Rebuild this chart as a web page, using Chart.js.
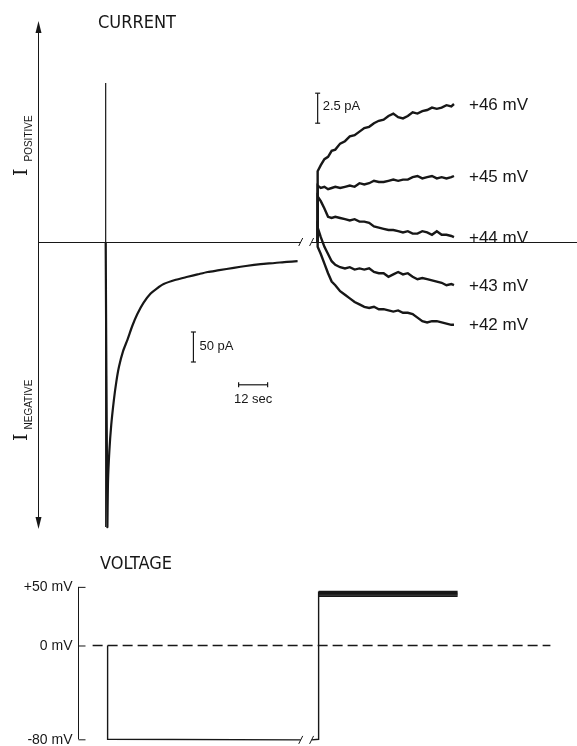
<!DOCTYPE html>
<html>
<head>
<meta charset="utf-8">
<script src="https://cdn.jsdelivr.net/npm/chart.js@4.4.1/dist/chart.umd.min.js"></script>
<style>
  html, body { margin: 0; padding: 0; background: #fff; }
  .box { position: absolute; left: 0; width: 577px; }
</style>
</head>
<body>
<div class="box" style="top:0;height:540px"><canvas id="current"></canvas></div>
<div class="box" style="top:540px;height:206px"><canvas id="voltage"></canvas></div>
<script>
// time in sec after the -80 mV pulse starts, current in pA
var negTime    = [0, 0.7, 0.96, 1.5, 2.3, 3.4, 4.4, 5.5, 7.2, 9.0, 11, 13.1, 15.7, 18.6, 21, 24, 29, 33.9, 38, 42.2, 47, 53, 58, 64.1, 70, 75, 79.4];
var negCurrent = [0, -475, -400, -350, -305, -263, -233, -208, -182, -163, -140, -120, -101, -86, -78, -70, -63, -58, -54, -50, -47, -43, -40, -37, -35, -33, -32];

var stimTime = [0, 0];
var stimCurrent = [265, -475];

// tail currents after the step (right axis, pA)
var tailTime = [87.7, 87.7, 89, 90.5, 92, 93.5, 95, 97, 99, 101, 103, 105, 107, 109, 111, 113, 115, 117, 119, 121, 123, 125, 127, 129, 131, 133, 135, 137, 139, 141, 143, 144.1];
var tail46 = [0, 5.9, 6.4, 6.9, 7.1, 7.6, 7.7, 8.2, 8.4, 8.8, 8.9, 9.2, 9.5, 9.6, 9.9, 10.1, 10.2, 10.5, 10.7, 10.4, 10.3, 10.5, 10.8, 10.7, 10.9, 11.0, 11.2, 11.1, 11.2, 11.4, 11.3, 11.5];
var tail45 = [0, 4.7, 4.5, 4.6, 4.4, 4.5, 4.6, 4.5, 4.6, 4.7, 4.6, 4.9, 4.8, 4.9, 5.1, 5.0, 5.0, 5.1, 5.2, 5.1, 5.2, 5.2, 5.4, 5.5, 5.3, 5.4, 5.5, 5.3, 5.4, 5.3, 5.4, 5.5];
var tail44 = [0, 3.8, 3.4, 2.8, 2.1, 2.0, 2.1, 2.0, 1.9, 1.8, 1.9, 1.7, 1.7, 1.6, 1.3, 1.2, 1.1, 1.0, 1.0, 0.9, 0.8, 0.9, 0.7, 0.7, 0.9, 0.8, 0.6, 0.9, 0.6, 0.6, 0.5, 0.4];
var tail43 = [0, 1.2, 0.4, -0.4, -1.0, -1.6, -1.9, -2.1, -2.2, -2.1, -2.3, -2.2, -2.3, -2.2, -2.5, -2.6, -2.6, -2.9, -2.7, -2.5, -2.7, -2.6, -2.9, -3.1, -3.0, -3.1, -3.2, -3.3, -3.4, -3.6, -3.5, -3.6];
var tail42 = [0, -0.4, -1.0, -1.8, -2.6, -3.3, -3.6, -4.1, -4.4, -4.7, -5.0, -5.2, -5.4, -5.5, -5.4, -5.6, -5.6, -5.7, -5.8, -5.7, -5.9, -5.9, -6.0, -6.3, -6.6, -6.7, -6.6, -6.6, -6.7, -6.8, -6.9, -6.9];
var tailLabels = ['+46 mV', '+45 mV', '+44 mV', '+43 mV', '+42 mV'];

var breakTimes = [80.7, 85.2];

// scale bars: [x1, y1, x2, y2]
var bar50pA = [36.3, -150, 36.3, -200];
var bar12s = [55, -238, 67, -238];
var bar2pA = [87.7, 9.9, 87.7, 12.4];

// voltage protocol (mV)
var pulseTime = [0.8, 0.8, 80.7, 80.7, 85.2, 88.1, 88.1];
var pulseVolt = [0, -80, -80.5, null, -80.5, -80, 46];
var stepLevels = [42, 43, 44, 45, 46];
var stepSpan = [88.1, 145.6];
var zeroTime = [-5.4, 184];
var voltTicks = [50, 0, -80];
var voltTickLabels = ['+50 mV', '0 mV', '-80 mV'];

var ink = '#171717';
var sans = '"Liberation Sans", Arial, sans-serif';
var narrow = '"Liberation Sans Narrow", "DejaVu Sans Condensed", sans-serif';

function zip(xs, ys) {
    var out = [];
    for (var i = 0; i < xs.length; i++) out.push({ x: xs[i], y: ys[i] });
    return out;
}

function line(ctx, x1, y1, x2, y2) {
    ctx.beginPath();
    ctx.moveTo(x1, y1);
    ctx.lineTo(x2, y2);
    ctx.stroke();
}

function scaleBar(ctx, chart, b, yId, cap) {
    var sx = chart.scales.x, sy = chart.scales[yId];
    var x1 = sx.getPixelForValue(b[0]), y1 = sy.getPixelForValue(b[1]);
    var x2 = sx.getPixelForValue(b[2]), y2 = sy.getPixelForValue(b[3]);
    line(ctx, x1, y1, x2, y2);
    if (x1 == x2) {
        line(ctx, x1 - cap, y1, x1 + cap, y1);
        line(ctx, x2 - cap, y2, x2 + cap, y2);
    } else {
        line(ctx, x1, y1 - cap, x1, y1 + cap);
        line(ctx, x2, y2 - cap, x2, y2 + cap);
    }
}

function slash(ctx, x, y) {
    line(ctx, x - 2, y + 4, x + 2, y - 4);
}

function sideLabel(ctx, x, y, sub, gap) {
    ctx.save();
    ctx.translate(x, y);
    ctx.rotate(-Math.PI / 2);
    ctx.textAlign = 'left';
    ctx.textBaseline = 'alphabetic';
    ctx.font = '19px "DejaVu Serif", serif';
    ctx.fillText('I', 0, 0);
    var w = ctx.measureText('I').width;
    ctx.font = '10px ' + sans;
    ctx.fillText(sub, w + gap, 5);
    ctx.restore();
}

var currentDeco = {
    id: 'currentDeco',
    beforeDatasetsDraw: function (chart) {
        var ctx = chart.ctx, ca = chart.chartArea;
        var sx = chart.scales.x, sy = chart.scales.y;
        var y0 = sy.getPixelForValue(0);
        ctx.save();
        ctx.strokeStyle = ink;
        ctx.fillStyle = ink;
        ctx.lineWidth = 1;
        // vertical current axis with arrows
        var ax = ca.left + 0.5;
        line(ctx, ax, ca.top + 4, ax, ca.bottom - 4);
        ctx.beginPath();
        ctx.moveTo(ax, ca.top + 1); ctx.lineTo(ax - 3, ca.top + 13); ctx.lineTo(ax + 3, ca.top + 13); ctx.closePath(); ctx.fill();
        ctx.beginPath();
        ctx.moveTo(ax, ca.bottom - 1); ctx.lineTo(ax - 3, ca.bottom - 13); ctx.lineTo(ax + 3, ca.bottom - 13); ctx.closePath(); ctx.fill();
        // time axis with a break
        var b1 = sx.getPixelForValue(breakTimes[0]), b2 = sx.getPixelForValue(breakTimes[1]);
        line(ctx, ca.left, y0 + 0.5, b1, y0 + 0.5);
        line(ctx, b2, y0 + 0.5, ca.right, y0 + 0.5);
        slash(ctx, b1, y0);
        slash(ctx, b2, y0);
        ctx.restore();
    },
    afterDraw: function (chart) {
        var ctx = chart.ctx;
        var sx = chart.scales.x, sy = chart.scales.y, sy2 = chart.scales.y2;
        ctx.save();
        ctx.strokeStyle = ink;
        ctx.fillStyle = ink;
        ctx.lineWidth = 1.2;
        scaleBar(ctx, chart, bar50pA, 'y', 2.5);
        scaleBar(ctx, chart, bar12s, 'y', 2.5);
        scaleBar(ctx, chart, bar2pA, 'y2', 2.5);

        ctx.textBaseline = 'middle';
        ctx.textAlign = 'left';
        ctx.font = '13px ' + sans;
        ctx.fillText('50 pA', sx.getPixelForValue(bar50pA[0]) + 6, sy.getPixelForValue((bar50pA[1] + bar50pA[3]) / 2) - 1);
        ctx.textAlign = 'center';
        ctx.fillText('12 sec', sx.getPixelForValue((bar12s[0] + bar12s[2]) / 2), sy.getPixelForValue(bar12s[1]) + 15);
        ctx.textAlign = 'left';
        ctx.fillText('2.5 pA', sx.getPixelForValue(bar2pA[0]) + 5, sy2.getPixelForValue((bar2pA[1] + bar2pA[3]) / 2) - 2);

        // trace labels at the end of each tail
        var tails = [tail46, tail45, tail44, tail43, tail42];
        ctx.font = '17px ' + sans;
        for (var i = 0; i < tails.length; i++) {
            var n = tails[i].length - 1;
            ctx.fillText(tailLabels[i], sx.getPixelForValue(tailTime[n]) + 15, sy2.getPixelForValue(tails[i][n]) + 1);
        }

        ctx.font = '18px ' + narrow;
        ctx.fillText('CURRENT', 98, 23);
        sideLabel(ctx, 27, 176, 'POSITIVE', 7);
        sideLabel(ctx, 27, 441, 'NEGATIVE', 4);
        ctx.restore();
    }
};

var voltageDeco = {
    id: 'voltageDeco',
    afterDraw: function (chart) {
        var ctx = chart.ctx, ca = chart.chartArea;
        var sx = chart.scales.x, sy = chart.scales.y;
        ctx.save();
        ctx.strokeStyle = ink;
        ctx.fillStyle = ink;
        ctx.lineWidth = 1;
        var ax = ca.left + 0.5;
        line(ctx, ax, sy.getPixelForValue(voltTicks[0]), ax, sy.getPixelForValue(voltTicks[voltTicks.length - 1]));
        ctx.font = '14px ' + sans;
        ctx.textAlign = 'right';
        ctx.textBaseline = 'middle';
        for (var i = 0; i < voltTicks.length; i++) {
            var ty = sy.getPixelForValue(voltTicks[i]) + 0.5;
            line(ctx, ax, ty, ax + 7, ty);
            ctx.fillText(voltTickLabels[i], ax - 6, ty);
        }
        var yb = sy.getPixelForValue(-80.5);
        slash(ctx, sx.getPixelForValue(breakTimes[0]), yb);
        slash(ctx, sx.getPixelForValue(breakTimes[1]), yb);
        ctx.textAlign = 'left';
        ctx.font = '18px ' + narrow;
        ctx.fillText('VOLTAGE', 100, 24);
        ctx.restore();
    }
};

function trace(data, width, yId) {
    return {
        data: data,
        borderColor: ink,
        borderWidth: width,
        pointRadius: 0,
        tension: 0,
        fill: false,
        yAxisID: yId || 'y'
    };
}

var currentSets = [
    trace(zip(stimTime, stimCurrent), 1.2),
    Object.assign(trace(zip(negTime, negCurrent), 2.2), { tension: 0.25 }),
    trace(zip(tailTime, tail46), 2.4, 'y2'),
    trace(zip(tailTime, tail45), 2.4, 'y2'),
    trace(zip(tailTime, tail44), 2.4, 'y2'),
    trace(zip(tailTime, tail43), 2.4, 'y2'),
    trace(zip(tailTime, tail42), 2.4, 'y2')
];

new Chart(document.getElementById('current'), {
    type: 'line',
    data: { datasets: currentSets },
    options: {
        responsive: true,
        maintainAspectRatio: false,
        animation: false,
        layout: { padding: { left: 38, right: 0, top: 20, bottom: 10 } },
        plugins: { legend: { display: false }, tooltip: { enabled: false } },
        scales: {
            x: { type: 'linear', min: -28, max: 195, display: false },
            y: { min: -480, max: 370, display: false },
            y2: { min: -24, max: 18.5, display: false }
        }
    },
    plugins: [currentDeco]
});

var voltageSets = [
    Object.assign(trace(zip(zeroTime, [0, 0]), 1.6), { borderDash: [10, 5] }),
    trace(zip(pulseTime, pulseVolt), 1.4)
];
for (var k = 0; k < stepLevels.length; k++) {
    voltageSets.push(trace(zip(stepSpan, [stepLevels[k], stepLevels[k]]), 1.6));
}

new Chart(document.getElementById('voltage'), {
    type: 'line',
    data: { datasets: voltageSets },
    options: {
        responsive: true,
        maintainAspectRatio: false,
        animation: false,
        layout: { padding: { left: 78, right: 0, top: 41, bottom: 2 } },
        plugins: { legend: { display: false }, tooltip: { enabled: false } },
        scales: {
            x: { type: 'linear', min: -11.45, max: 195, display: false },
            y: { min: -84, max: 55, display: false }
        }
    },
    plugins: [voltageDeco]
});
</script>
</body>
</html>
